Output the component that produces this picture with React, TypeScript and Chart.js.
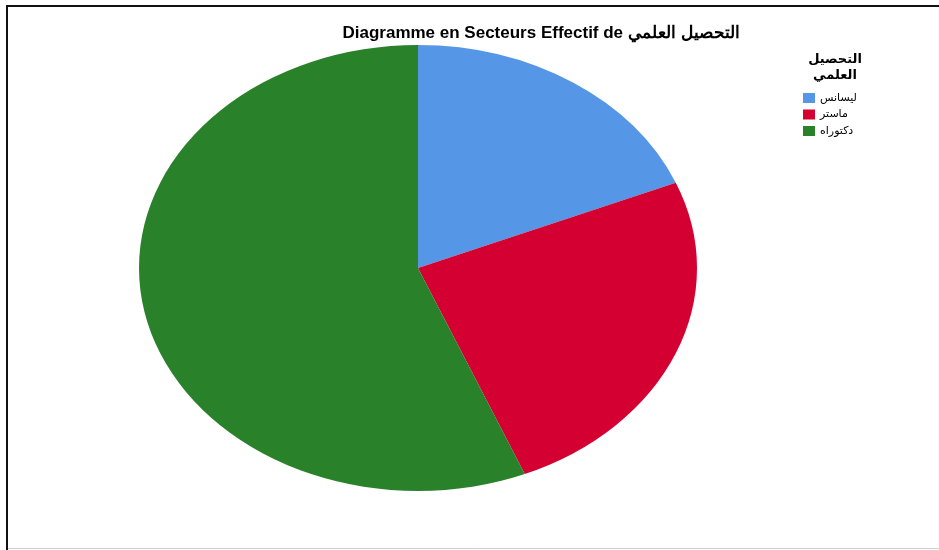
import React, { useEffect, useRef } from "react";
import { Chart, registerables } from "chart.js";

Chart.register(...registerables);

const categories = ["ليسانس", "ماستر", "دكتوراه"];
const counts = [6, 8, 18];
const colors = ["#5696E6", "#D50032", "#29822A"];
const titleText = "Diagramme en Secteurs Effectif de التحصيل العلمي";
const legendTitleLines = ["التحصيل", "العلمي"];

const X_STRETCH = 279 / 223;

const ellipsePlugin = {
  id: "ellipse",
  beforeDatasetsDraw(chart: any) {
    const meta = chart.getDatasetMeta(0);
    const arc = meta.data[0];
    if (!arc) return;
    const ctx = chart.ctx;
    ctx.save();
    ctx.translate(arc.x, arc.y);
    ctx.scale(X_STRETCH, 1);
    ctx.translate(-arc.x, -arc.y);
  },
  afterDatasetsDraw(chart: any) {
    chart.ctx.restore();
  },
};

const decorPlugin = {
  id: "decor",
  beforeDraw(chart: any) {
    const ctx = chart.ctx;
    ctx.save();
    ctx.fillStyle = "#ffffff";
    ctx.fillRect(0, 0, chart.width, chart.height);
    ctx.strokeStyle = "#111111";
    ctx.lineWidth = 2;
    ctx.beginPath();
    ctx.moveTo(7, chart.height);
    ctx.lineTo(7, 6);
    ctx.lineTo(chart.width, 6);
    ctx.stroke();
    ctx.strokeStyle = "#d0d0d0";
    ctx.lineWidth = 1;
    ctx.beginPath();
    ctx.moveTo(8, chart.height - 1.5);
    ctx.lineTo(chart.width, chart.height - 1.5);
    ctx.stroke();
    ctx.restore();
  },
  afterDraw(chart: any) {
    const ctx = chart.ctx;
    ctx.save();
    // title
    ctx.direction = "ltr";
    ctx.fillStyle = "#000000";
    ctx.font = "bold 17px 'Liberation Sans', Arial, sans-serif";
    ctx.textAlign = "center";
    ctx.textBaseline = "middle";
    ctx.fillText(titleText, 541, 33);
    // legend title
    ctx.font = "bold 13px 'DejaVu Sans', 'Liberation Sans', sans-serif";
    ctx.fillText(legendTitleLines[0], 835, 60);
    ctx.fillText(legendTitleLines[1], 835, 76);
    // legend items
    ctx.font = "11px 'DejaVu Sans', 'Liberation Sans', sans-serif";
    const ds = chart.data.datasets[0];
    chart.data.labels.forEach((lab: string, i: number) => {
      const y = 98 + i * 16.5;
      ctx.fillStyle = ds.backgroundColor[i];
      ctx.fillRect(803, y - 5, 12, 10);
      ctx.fillStyle = "#000000";
      ctx.direction = "rtl";
      ctx.textAlign = "left";
      ctx.fillText(lab, 820, y);
    });
    ctx.restore();
  },
};

export default function App() {
  const ref = useRef<HTMLCanvasElement | null>(null);
  useEffect(() => {
    if (!ref.current) return;
    const chart = new Chart(ref.current, {
      type: "pie",
      data: {
        labels: categories,
        datasets: [
          {
            data: counts,
            backgroundColor: colors,
            borderWidth: 0,
          },
        ],
      },
      options: {
        responsive: false,
        animation: false,
        devicePixelRatio: 1,
        layout: { padding: { left: 195, right: 298, top: 45, bottom: 59 } },
        plugins: {
          legend: { display: false },
          title: { display: false },
          tooltip: { enabled: false },
        },
      },
      plugins: [ellipsePlugin, decorPlugin],
    });
    return () => chart.destroy();
  }, []);
  return (
    <div style={{ position: "fixed", left: 0, top: 0, width: 939, height: 550, background: "#fff" }}>
      <canvas ref={ref} width={939} height={550} style={{ width: 939, height: 550, display: "block" }} />
    </div>
  );
}
